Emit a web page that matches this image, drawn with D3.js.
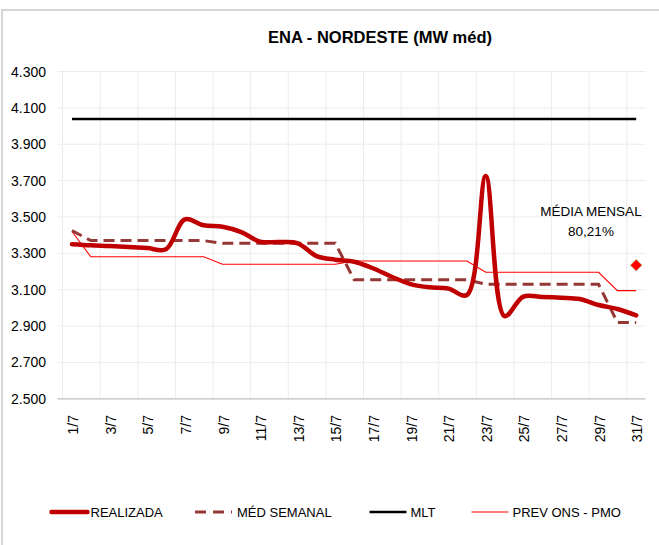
<!DOCTYPE html>
<html>
<head>
<meta charset="utf-8">
<script src="https://cdn.jsdelivr.net/npm/d3@7"></script>
<style>
  body { margin: 0; background: #fff; }
  text { font-family: "Liberation Sans", Arial, sans-serif; fill: #000; }
</style>
</head>
<body>
<div id="chart"></div>
<script>
var width = 659,
    height = 545;

var days = ["1/7","2/7","3/7","4/7","5/7","6/7","7/7","8/7","9/7","10/7",
            "11/7","12/7","13/7","14/7","15/7","16/7","17/7","18/7","19/7","20/7",
            "21/7","22/7","23/7","24/7","25/7","26/7","27/7","28/7","29/7","30/7","31/7"];

var realizada = [3350, 3344, 3340, 3335, 3329, 3322, 3487, 3454, 3446, 3417,
                 3364, 3362, 3355, 3285, 3265, 3254, 3218, 3171, 3131, 3113,
                 3107, 3071, 3725, 2955, 3062, 3060, 3056, 3049, 3016, 2994, 2959];

var medSemanal = [3425, 3370, 3370, 3370, 3370, 3370, 3370, 3370, 3355, 3355,
                  3355, 3355, 3355, 3355, 3355, 3155, 3155, 3155, 3155, 3155,
                  3155, 3155, 3130, 3130, 3130, 3130, 3130, 3130, 3130, 2920, 2920];

var prevOns = [3420, 3281, 3281, 3281, 3281, 3281, 3281, 3281, 3240, 3240,
               3240, 3240, 3240, 3240, 3240, 3258, 3258, 3258, 3258, 3258,
               3258, 3258, 3196, 3196, 3196, 3196, 3196, 3196, 3196, 3095, 3095];

var mlt = 4039;

var mediaMensal = 3235;          // marcador do último dia
var mediaMensalLabel = ["MÉDIA MENSAL", "80,21%"];

var yTicks = [2500, 2700, 2900, 3100, 3300, 3500, 3700, 3900, 4100, 4300];

var legendNames = ["REALIZADA", "MÉD SEMANAL", "MLT", "PREV ONS - PMO"];

var margin = {left: 62.6, right: 645.6, top: 71.5, bottom: 398.8};

var svg = d3.select("#chart").append("svg")
    .attr("width", width)
    .attr("height", height);

// borda do gráfico (cortada à direita e embaixo)
svg.append("rect")
    .attr("x", 2).attr("y", 10)
    .attr("width", 700).attr("height", 600)
    .attr("fill", "none")
    .attr("stroke", "#c8c8c8")
    .attr("stroke-width", 1.5);

var x = d3.scaleBand()
    .domain(days)
    .range([margin.left, margin.right])
    .padding(0);

var y = d3.scaleLinear()
    .domain([2500, 4300])
    .range([margin.bottom, margin.top]);

function cx(d) { return x(d) + x.bandwidth() / 2; }

var ptBR = d3.formatLocale({decimal: ",", thousands: ".", grouping: [3], currency: ["R$", ""]});
var fmt = ptBR.format(",.0f");

// grade horizontal
svg.append("g")
    .selectAll("line")
    .data(yTicks.slice(1))
    .enter().append("line")
    .attr("x1", margin.left - 5)
    .attr("x2", margin.right)
    .attr("y1", function(d) { return y(d); })
    .attr("y2", function(d) { return y(d); })
    .attr("stroke", "#ececec")
    .attr("stroke-width", 1);

// grade vertical a cada 2 dias
svg.append("g")
    .selectAll("line")
    .data(days.filter(function(d, i) { return i % 2 == 0; }))
    .enter().append("line")
    .attr("x1", function(d) { return x(d); })
    .attr("x2", function(d) { return x(d); })
    .attr("y1", margin.top)
    .attr("y2", margin.bottom)
    .attr("stroke", "#ececec")
    .attr("stroke-width", 1);

// eixo x
svg.append("line")
    .attr("x1", margin.left - 5)
    .attr("x2", margin.right)
    .attr("y1", margin.bottom)
    .attr("y2", margin.bottom)
    .attr("stroke", "#bfbfbf")
    .attr("stroke-width", 1.3);

// rótulos y
svg.append("g")
    .selectAll("text")
    .data(yTicks)
    .enter().append("text")
    .attr("x", 46)
    .attr("y", function(d) { return y(d); })
    .attr("dy", "0.36em")
    .attr("text-anchor", "end")
    .style("font-size", "14px")
    .text(function(d) { return fmt(d); });

// rótulos x (rotacionados)
svg.append("g")
    .selectAll("text")
    .data(days.filter(function(d, i) { return i % 2 == 0; }))
    .enter().append("text")
    .attr("transform", function(d) { return "translate(" + (cx(d) + 1) + ",415)rotate(-90)"; })
    .attr("dy", "0.36em")
    .attr("text-anchor", "end")
    .style("font-size", "14px")
    .text(function(d) { return d; });

// título
svg.append("text")
    .attr("x", 380)
    .attr("y", 43)
    .attr("text-anchor", "middle")
    .style("font-size", "16.5px")
    .style("font-weight", "bold")
    .text("ENA - NORDESTE (MW méd)");

// MLT
svg.append("line")
    .attr("x1", cx(days[0]))
    .attr("x2", cx(days[days.length - 1]))
    .attr("y1", y(mlt))
    .attr("y2", y(mlt))
    .attr("stroke", "#000")
    .attr("stroke-width", 2.6);

var straight = d3.line()
    .x(function(d, i) { return cx(days[i]); })
    .y(function(d) { return y(d); });

var smooth = d3.line()
    .x(function(d, i) { return cx(days[i]); })
    .y(function(d) { return y(d); })
    .curve(d3.curveCatmullRom.alpha(0.5));

// PREV ONS - PMO
svg.append("path")
    .datum(prevOns)
    .attr("d", straight)
    .attr("fill", "none")
    .attr("stroke", "#ff0000")
    .attr("stroke-width", 1.1);

// MÉD SEMANAL
svg.append("path")
    .datum(medSemanal)
    .attr("d", straight)
    .attr("fill", "none")
    .attr("stroke", "#953735")
    .attr("stroke-width", 3)
    .attr("stroke-dasharray", "11,6");

// REALIZADA
svg.append("path")
    .datum(realizada)
    .attr("d", smooth)
    .attr("fill", "none")
    .attr("stroke", "#c00000")
    .attr("stroke-width", 4.5)
    .attr("stroke-linejoin", "round")
    .attr("stroke-linecap", "round");

// média mensal (losango)
svg.append("path")
    .attr("d", d3.symbol().type(d3.symbolSquare).size(66))
    .attr("transform", "translate(" + cx(days[days.length - 1]) + "," + y(mediaMensal) + ")rotate(45)")
    .attr("fill", "#ff0000")
    .attr("stroke", "#9bbb59")
    .attr("stroke-width", 0.6);

svg.append("g")
    .selectAll("text")
    .data(mediaMensalLabel)
    .enter().append("text")
    .attr("x", 591)
    .attr("y", function(d, i) { return 216 + i * 20; })
    .attr("text-anchor", "middle")
    .style("font-size", "13.5px")
    .text(function(d) { return d; });

// legenda
var legendX = [49.5, 195, 369.5, 471.5];
var legendStyle = [
  {stroke: "#c00000", w: 4.5, dash: null, cap: "round"},
  {stroke: "#953735", w: 3, dash: "11,7", cap: "butt"},
  {stroke: "#000", w: 2.6, dash: null, cap: "butt"},
  {stroke: "#ff7f7f", w: 2, dash: null, cap: "butt"}
];

var legend = svg.append("g")
    .selectAll("g")
    .data(legendNames)
    .enter().append("g")
    .attr("transform", function(d, i) { return "translate(" + legendX[i] + ",512)"; });

legend.append("line")
    .attr("x1", function(d, i) { return legendStyle[i].cap == "round" ? 2 : 0; })
    .attr("x2", function(d, i) { return legendStyle[i].cap == "round" ? 38 : 37; })
    .attr("y1", 0).attr("y2", 0)
    .attr("stroke", function(d, i) { return legendStyle[i].stroke; })
    .attr("stroke-width", function(d, i) { return legendStyle[i].w; })
    .attr("stroke-dasharray", function(d, i) { return legendStyle[i].dash; })
    .attr("stroke-linecap", function(d, i) { return legendStyle[i].cap; });

legend.append("text")
    .attr("x", function(d, i) { return i == 1 ? 42 : 41; })
    .attr("y", 0)
    .attr("dy", "0.36em")
    .style("font-size", "13px")
    .text(function(d) { return d; });
</script>
</body>
</html>
